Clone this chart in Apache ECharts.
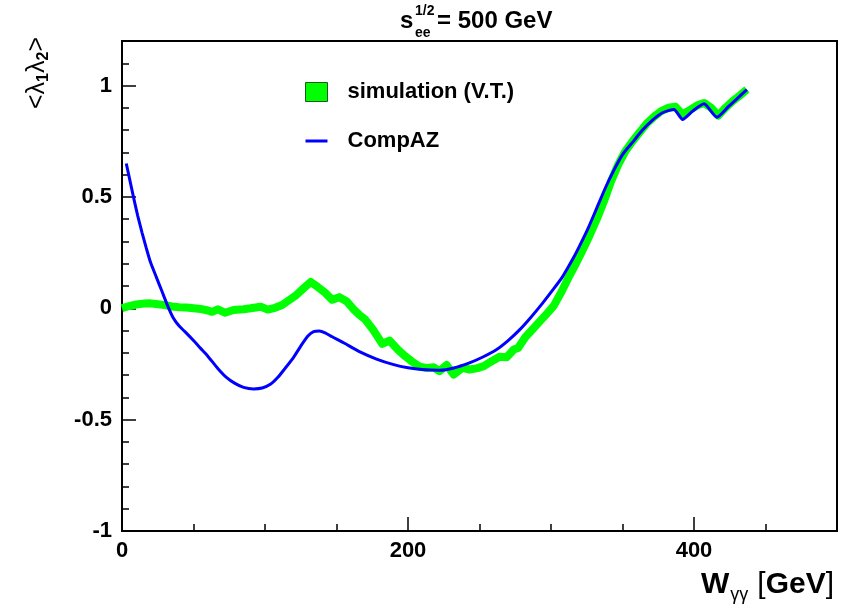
<!DOCTYPE html>
<html><head><meta charset="utf-8">
<script src="https://cdn.jsdelivr.net/npm/echarts/dist/echarts.min.js"></script>
<style>html,body{margin:0;padding:0;background:#fff}#c{width:845px;height:613px}</style>
</head><body><div id="c"></div>
<script>
// simulation (V.T.) — W_gg [GeV] and <l1 l2>
const simX = [0,5,10,15,20,25,30,35,40,45,50,55,60,63,67,72,78,85,90,97,102,107,112,117,122,127,132,137,142,147,152,157,162,166,170,176,182,187,193,198,203,208,213,218,222,227,232,238,243,248,253,258,264,269,274,277,282,287,292,297,302,307,312,317,322,327,332,337,342,347,352,357,362,367,372,377,382,387,392,397,402,407,412,417,422,427,432,437];
const simY = [0.0,0.01,0.017,0.021,0.022,0.018,0.014,0.008,0.005,0.003,0.0,-0.003,-0.01,-0.016,-0.005,-0.02,-0.008,-0.004,0.0,0.007,-0.006,0.002,0.015,0.037,0.06,0.09,0.118,0.095,0.07,0.038,0.05,0.032,-0.005,-0.03,-0.05,-0.1,-0.16,-0.145,-0.186,-0.215,-0.24,-0.262,-0.268,-0.265,-0.282,-0.255,-0.298,-0.268,-0.275,-0.27,-0.26,-0.24,-0.218,-0.22,-0.185,-0.178,-0.13,-0.095,-0.06,-0.025,0.012,0.07,0.135,0.195,0.26,0.327,0.40,0.48,0.57,0.645,0.705,0.75,0.79,0.83,0.86,0.885,0.9,0.905,0.87,0.89,0.91,0.922,0.9,0.865,0.9,0.93,0.955,0.982];
// CompAZ
const compX = [3,5,8,11,14,17,20,24,28,32,36,40,44,50,55,60,67,73,79,85,92,98,104,109,114,120,125,130,134,138,142,147,155,166,178,190,200,210,222,232,243,252,262,270,278,286,294,301,308,316,320,326,332,338,344,350,357,364,371,378,386,392,399,407,416,424,430,437];
const compY = [0.65,0.59,0.50,0.415,0.34,0.27,0.205,0.14,0.075,0.01,-0.045,-0.08,-0.105,-0.145,-0.18,-0.215,-0.27,-0.31,-0.337,-0.355,-0.362,-0.358,-0.34,-0.31,-0.27,-0.22,-0.17,-0.125,-0.105,-0.102,-0.11,-0.128,-0.155,-0.195,-0.228,-0.253,-0.267,-0.275,-0.278,-0.268,-0.245,-0.22,-0.185,-0.145,-0.097,-0.04,0.022,0.08,0.141,0.23,0.28,0.36,0.45,0.54,0.62,0.69,0.745,0.8,0.845,0.878,0.893,0.848,0.885,0.918,0.858,0.905,0.94,0.982];
const xTickLabels = [0,200,400];
const yTickLabels = [-1,-0.5,0,0.5,1];
const seriesNames = ['simulation (V.T.)','CompAZ'];

const FONT = '"Liberation Sans", Arial, Helvetica, sans-serif';
const zip = (a,b) => a.map((v,i)=>[v,b[i]]);
const chart = echarts.init(document.getElementById('c'), null, {renderer:'canvas'});
const tickStyle = {color:'#000', width:1.5};
const baseX = {type:'value', min:0, max:500, gridIndex:0};
const baseY = {type:'value', min:-1, max:1.2, gridIndex:0};
chart.setOption({
  animation:false,
  backgroundColor:'#fff',
  grid:{left:122, top:41, right:8, bottom:82, show:true, borderColor:'#000', borderWidth:2, backgroundColor:'transparent'},
  xAxis:[
    Object.assign({}, baseX, {interval:50,
      axisLine:{show:true, onZero:false, lineStyle:{color:'#000', width:2}},
      axisTick:{show:true, inside:true, length:7, lineStyle:tickStyle},
      splitLine:{show:false},
      axisLabel:{margin:9, color:'#000', fontFamily:FONT, fontWeight:'bold', fontSize:22, showMaxLabel:false,
        formatter:v=>{const r=Math.round(v); return xTickLabels.includes(r)?String(r):'';}}}),
    Object.assign({}, baseX, {interval:200, position:'bottom',
      axisLine:{show:false, onZero:false},
      axisTick:{show:true, inside:true, length:14, lineStyle:tickStyle},
      splitLine:{show:false}, axisLabel:{show:false}})
  ],
  yAxis:[
    Object.assign({}, baseY, {interval:0.1,
      axisLine:{show:true, onZero:false, lineStyle:{color:'#000', width:2}},
      axisTick:{show:true, inside:true, length:7, lineStyle:tickStyle},
      splitLine:{show:false},
      axisLabel:{margin:10, color:'#000', fontFamily:FONT, fontWeight:'bold', fontSize:22, showMaxLabel:false,
        formatter:v=>{const r=Math.round(v*10); if(r%5!==0) return ''; const val=r/10; return yTickLabels.includes(val)?String(val):'';}}}),
    Object.assign({}, baseY, {interval:0.5, position:'left',
      axisLine:{show:false, onZero:false},
      axisTick:{show:true, inside:true, length:14, lineStyle:tickStyle},
      splitLine:{show:false}, axisLabel:{show:false}})
  ],
  legend:{
    orient:'vertical', left:300, top:76, itemWidth:22, itemHeight:19, itemGap:27,
    textStyle:{color:'#000', fontFamily:FONT, fontWeight:'bold', fontSize:22, padding:[0,0,0,15]},
    data:[
      {name:seriesNames[0], icon:'rect', itemStyle:{color:'#00ff00', borderColor:'#1a5a1a', borderWidth:1}},
      {name:seriesNames[1], icon:'path://M0,0H22V3H0Z', itemStyle:{color:'#0000ff'}}
    ]
  },
  series:[
    {name:seriesNames[0], type:'line', xAxisIndex:0, yAxisIndex:0, data:zip(simX,simY), showSymbol:false, symbol:'none',
      lineStyle:{color:'#00ff00', width:8, join:'round', cap:'butt'}, itemStyle:{color:'#00ff00'}, z:2},
    {name:seriesNames[1], type:'line', xAxisIndex:0, yAxisIndex:0, data:zip(compX,compY), showSymbol:false, symbol:'none', smooth:0.2,
      lineStyle:{color:'#0000ff', width:3}, itemStyle:{color:'#0000ff'}, z:3}
  ],
  graphic:[
    {type:'text', left:400, top:9, style:{text:'s', font:'bold 24px '+FONT, fill:'#000'}},
    {type:'text', left:415, top:4, style:{text:'1/2', font:'bold 14px '+FONT, fill:'#000'}},
    {type:'text', left:415, top:26, style:{text:'ee', font:'bold 14px '+FONT, fill:'#000'}},
    {type:'text', left:437, top:9, style:{text:'= 500 GeV', font:'bold 24px '+FONT, fill:'#000'}},
    {type:'text', x:37, y:73, rotation:Math.PI/2, style:{
      text:'<{l|λ}{s|1}{l|λ}{s|2}>', align:'center', verticalAlign:'middle', fill:'#000',
      font:'25px '+FONT,
      rich:{l:{fontSize:25, fontFamily:FONT, lineHeight:30, verticalAlign:'middle'}, s:{fontSize:16, fontWeight:'bold', fontFamily:FONT, lineHeight:30, verticalAlign:'bottom', padding:[8,0,0,0]}}}},
    {type:'text', right:11, top:570, style:{
      text:'{w|W}{g|γγ}{sp| }{b|[}{w|GeV}{b|]}', fill:'#000',
      rich:{w:{fontSize:30, fontWeight:'bold', fontFamily:FONT, lineHeight:38, verticalAlign:'middle'},
            g:{fontSize:18, fontFamily:FONT, lineHeight:38, verticalAlign:'bottom', padding:[12,0,0,1]},
            sp:{fontSize:30, fontFamily:FONT, lineHeight:38, width:9},
            b:{fontSize:30, fontFamily:FONT, lineHeight:38, verticalAlign:'middle'}}}}
  ]
});
</script></body></html>
